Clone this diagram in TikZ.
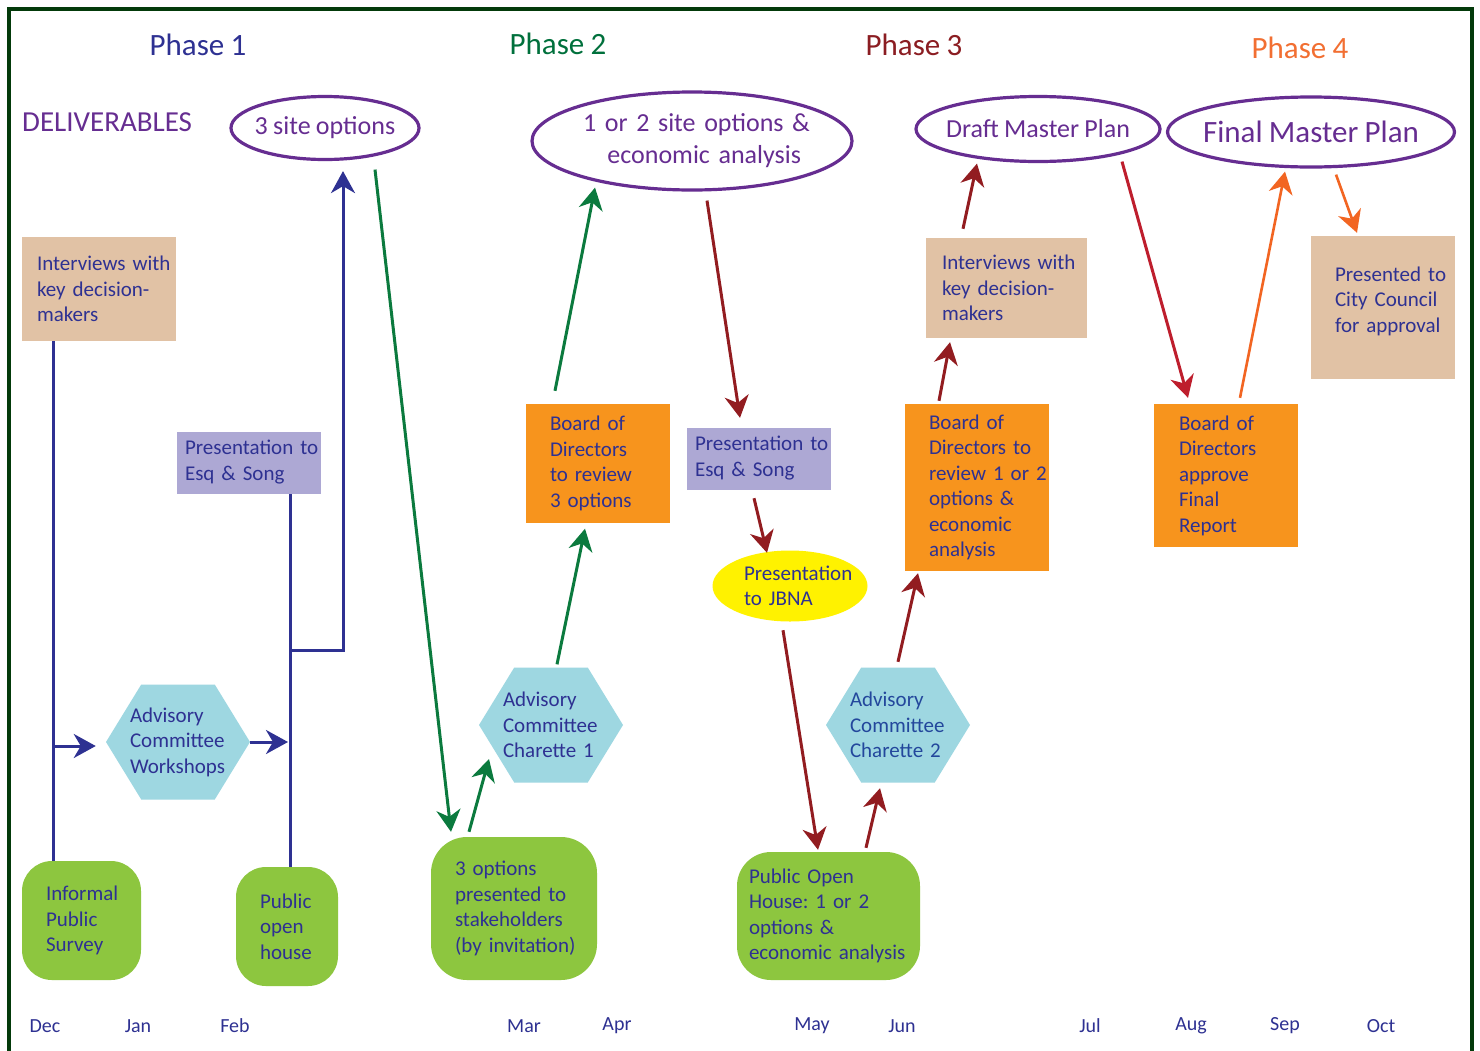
\documentclass[tikz,border=0pt]{standalone}
\usepackage{fontspec}
\setmainfont{Carlito}[WordSpace=0.9]
\usetikzlibrary{arrows.meta,shapes.geometric,shapes.symbols,calc}
\definecolor{navy}{HTML}{2E3192}
\definecolor{hexblue}{HTML}{23479C}
\definecolor{purp}{HTML}{662D91}
\definecolor{phgreen}{HTML}{00703C}
\definecolor{phred}{HTML}{8B1D22}
\definecolor{phorange}{HTML}{F26F32}
\definecolor{dgreen}{HTML}{0B7A3E}
\definecolor{dred}{HTML}{921C20}
\definecolor{bred}{HTML}{BE1E2D}
\definecolor{aorange}{HTML}{F26522}
\definecolor{tanc}{HTML}{E1C2A5}
\definecolor{lav}{HTML}{ADA8D4}
\definecolor{orangec}{HTML}{F7941D}
\definecolor{yel}{HTML}{FFF200}
\definecolor{lblue}{HTML}{9ED7E1}
\definecolor{gbox}{HTML}{8DC63F}
\definecolor{framec}{HTML}{033A0A}
\hyphenpenalty=10000
\exhyphenpenalty=10000
\frenchspacing
\begin{document}
\begin{tikzpicture}[x=1pt,y=-1pt,
  btxt/.style={font=\fontsize{21}{25.5}\selectfont, text=navy, align=left, inner ysep=0pt,
    execute at begin node={\hyphenpenalty=10000\exhyphenpenalty=10000\frenchspacing}},
  tanbox/.style={btxt, rectangle, fill=tanc},
  lavbox/.style={btxt, rectangle, fill=lav},
  orbox/.style={btxt, rectangle, fill=orangec},
  grbox/.style={btxt, rectangle, fill=gbox, rounded corners=30pt},
  hexa/.style={btxt, signal, signal to=east and west, signal pointer angle=117, fill=lblue, minimum width=144pt, minimum height=115pt, text width=96pt, inner xsep=-12pt},
  deliv/.style={ellipse, draw=purp, line width=3.2pt, text=purp, inner xsep=-40pt, inner ysep=-20pt},
  phase/.style={font=\fontsize{31}{36}\selectfont},
  month/.style={font=\fontsize{20}{24}\selectfont, text=navy},
  tipb/.style={-{Stealth[length=22pt,width=24pt,inset=7pt]}},
  bline/.style={draw=navy, line width=3pt},
  barrow/.style={bline, tipb},
  garrow/.style={draw=dgreen, line width=3pt, tipb},
  rarrow/.style={draw=dred, line width=3pt, tipb},
  brarrow/.style={draw=bred, line width=3pt, tipb},
  oarrow/.style={draw=aorange, line width=2.6pt, tipb}
]
\useasboundingbox (0,0) rectangle (1480,1050);
\fill[white] (0,0) rectangle (1480,1050);
\draw[framec, line width=3.5pt] (9,1052) -- (9,9) -- (1472,9) -- (1472,1052);

% phase titles
\node[phase, text=navy] (ph1) at (198,45) {Phase 1};
\node[phase, text=phgreen] (ph2) at (558,44) {Phase 2};
\node[phase, text=phred] (ph3) at (914,45) {Phase 3};
\node[phase, text=phorange] (ph4) at (1300,48) {Phase 4};
\node[font=\fontsize{29}{34}\selectfont, text=purp, anchor=west, inner sep=0pt] (dl) at (22,122) {DELIVERABLES};

% deliverable ellipses
\node[deliv, minimum width=188pt, minimum height=63pt, font=\fontsize{26}{31}\selectfont] (e1) at (325,128) {3 site options};
\node[deliv, minimum width=320pt, minimum height=98pt, font=\fontsize{26}{32}\selectfont, align=right, text width=218pt] (e2) at (692,141) {\mbox{1 or 2 site options \&}\\\mbox{economic analysis}};
\node[deliv, minimum width=244pt, minimum height=65pt, font=\fontsize{26}{31}\selectfont] (e3) at (1038,129) {Draft Master Plan};
\node[deliv, minimum width=287pt, minimum height=70pt, font=\fontsize{31}{36}\selectfont] (e4) at (1311,132) {Final Master Plan};

% tan boxes
\node[tanbox, minimum width=154pt, minimum height=104pt, inner xsep=15pt, text width=124pt] (t1) at (99,289) {\mbox{Interviews with}\\\mbox{key decision-}\\makers};
\node[tanbox, minimum width=161pt, minimum height=100pt, inner xsep=16pt, text width=129pt] (t2) at (1006.5,288) {\mbox{Interviews with}\\\mbox{key decision-}\\makers};
\node[tanbox, minimum width=144pt, minimum height=143pt, inner xsep=24pt, text width=96pt] (t3) at (1383,307.5) {\mbox{Presented to}\\\mbox{City Council}\\\mbox{for approval}\\[-9pt]\mbox{}};

% lavender boxes
\node[lavbox, minimum width=144pt, minimum height=62pt, inner xsep=8pt, text width=128pt] (l1) at (249,463) {\mbox{Presentation to}\\\mbox{Esq \& Song}\\[-20pt]\mbox{}};
\node[lavbox, minimum width=144pt, minimum height=62pt, inner xsep=8pt, text width=128pt] (l2) at (759,459) {\mbox{Presentation to}\\\mbox{Esq \& Song}\\[-20pt]\mbox{}};

% orange boxes
\node[orbox, minimum width=144pt, minimum height=119pt, inner xsep=24pt, text width=96pt] (o1) at (598,463.5) {\mbox{Board of}\\Directors\\\mbox{to review}\\\mbox{3 options}};
\node[orbox, minimum width=144pt, minimum height=167pt, inner xsep=24pt, text width=96pt] (o2) at (977,487.5) {\mbox{Board of}\\\mbox{Directors to}\\\mbox{review 1 or 2}\\\mbox{options \&}\\economic\\analysis};
\node[orbox, minimum width=144pt, minimum height=143pt, inner xsep=25pt, text width=94pt] (o3) at (1226,475.5) {\mbox{Board of}\\Directors\\approve\\Final\\Report};

% yellow ellipse
\node[btxt, ellipse, fill=yel, minimum width=155pt, minimum height=71pt, inner xsep=-20pt, inner ysep=-10pt, text width=92pt] (y) at (790,586) {Presentation\\\mbox{to JBNA}};

% hexagons
\node[hexa] (h1) at (178,742) {Advisory\\Committee\\Workshops};
\node[hexa] (h2) at (551,725) {Advisory\\Committee\\\mbox{Charette 1}};
\node[hexa, text=hexblue] (h3) at (898,725) {Advisory\\Committee\\\mbox{Charette 2}};

% green boxes
\node[grbox, minimum width=119pt, minimum height=119pt, inner xsep=24pt, text width=71pt] (g1) at (81.5,920.5) {Informal\\Public\\Survey};
\node[grbox, minimum width=102pt, minimum height=119pt, inner xsep=24pt, text width=54pt] (g2) at (287,926.5) {Public\\open\\house};
\node[grbox, rounded corners=36pt, minimum width=166pt, minimum height=143pt, inner xsep=24pt, text width=118pt] (g3) at (514,908.5) {\mbox{3 options}\\\mbox{presented to}\\stakeholders\\\mbox{(by invitation)}};
\node[grbox, rounded corners=34pt, minimum width=183pt, minimum height=128pt, inner xsep=12pt, text width=159pt] (g4) at (828.5,916) {\mbox{Public Open}\\\mbox{House: 1 or 2}\\\mbox{options \&}\\\mbox{economic analysis}};

% months
\node[month] (mdec) at (45,1026) {Dec};
\node[month] (mjan) at (138,1026) {Jan};
\node[month] (mfeb) at (235,1026) {Feb};
\node[month] (mmar) at (524,1026) {Mar};
\node[month] (mapr) at (617,1026) {Apr};
\node[month] (mmay) at (812,1026) {May};
\node[month] (mjun) at (902,1026) {Jun};
\node[month] (mjul) at (1090,1026) {Jul};
\node[month] (maug) at (1191,1026) {Aug};
\node[month] (msep) at (1285,1026) {Sep};
\node[month] (moct) at (1381,1026) {Oct};

% blue connectors (phase 1)
\draw[bline] ($(t1.south)+(-46,0)$) coordinate (a1) -- (a1 |- g1.north);
\draw[barrow] ($(a1 |- h1.west)+(0,4)$) -- ($(h1.west)+(-10,4)$);
\draw[bline] ($(l1.south)+(41,0)$) coordinate (a2) -- (a2 |- g2.north);
\draw[barrow] (h1.east) -- ($(a2 |- h1.east)+(-2,0)$);
\draw[barrow] ($(a2)+(0,156)$) -| ($(e1.south)+(18,10)$);

% green connectors (phase 2)
\draw[garrow] ($(e1.south)+(50,8.5)$) -- ($(g3.north)+(-63,-5)$);
\draw[garrow] ($(g3.north)+(-45,-5)$) -- ($(h2.center)+(-62,34)$);
\draw[garrow] ($(h2.north)+(6,-3)$) -- ($(o1.south)+(-13,5.5)$);
\draw[garrow] ($(o1.north)+(-43,-13)$) -- ($(e2.south)+(-97,-4)$);

% red connectors (phase 3)
\draw[rarrow] ($(e2.south)+(15,9)$) -- ($(l2.north)+(-19,-10)$);
\draw[rarrow] ($(l2.south)+(-5,8)$) -- ($(y.north)+(-23,2.5)$);
\draw[rarrow] ($(y.south)+(-7,8.5)$) -- ($(g4.north)+(-10.5,-2)$);
\draw[rarrow] ($(g4.north)+(37.5,-4)$) -- ($(h3.south)+(-18,5.5)$);
\draw[rarrow] ($(h3.north)+(0,-5.5)$) -- ($(o2.south)+(-59,2)$);
\draw[rarrow] ($(o2.north)+(-38,-3)$) -- ($(t2.south)+(-56.5,4)$);
\draw[rarrow] ($(t2.north)+(-43.5,-9)$) -- ($(e3.south)+(-61,0.5)$);
\draw[brarrow] ($(e3.south)+(84,-1.5)$) -- ($(o3.north)+(-38,-6)$);

% orange connectors (phase 4)
\draw[oarrow] ($(o3.north)+(14,-6)$) -- ($(e4.south)+(-26,3)$);
\draw[oarrow] ($(e4.south)+(25,6)$) -- ($(t3.north)+(-26,-3)$);
\end{tikzpicture}
\end{document}
